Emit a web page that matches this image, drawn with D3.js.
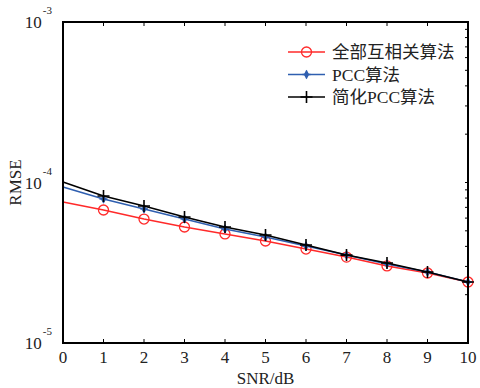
<!DOCTYPE html>
<head>
  <meta charset="utf-8">
  <script src="https://d3js.org/d3.v7.min.js"></script>
  <style>
    body { margin:0; background:#fff; }
    svg { display:block; }
    text { font-family: "Liberation Serif", "Times New Roman", serif; fill:#222; }
    .cjk { font-family: "Liberation Serif", "Noto Sans CJK SC", serif; }
  </style>
</head>
<body>
  <svg width="480" height="388"></svg>
  <script>
    // data
    var snr = [0, 1, 2, 3, 4, 5, 6, 7, 8, 9, 10];
    var rmseFull = [7.56e-5, 6.74e-5, 5.92e-5, 5.28e-5, 4.78e-5, 4.32e-5, 3.85e-5, 3.43e-5, 3.02e-5, 2.73e-5, 2.40e-5];
    var rmsePcc = [9.37e-5, 7.89e-5, 6.84e-5, 5.92e-5, 5.13e-5, 4.58e-5, 4.02e-5, 3.53e-5, 3.11e-5, 2.77e-5, 2.40e-5];
    var rmseSimple = [1.007e-4, 8.24e-5, 7.14e-5, 6.10e-5, 5.28e-5, 4.71e-5, 4.08e-5, 3.53e-5, 3.15e-5, 2.77e-5, 2.40e-5];
    var seriesNames = ['全部互相关算法', 'PCC算法', '简化PCC算法'];
    var yTickExp = [-5, -4, -3];

    var margin = {top: 22, bottom: 45, left: 63, right: 12};
    var width = 480, height = 388;

    var x = d3.scaleLinear().domain([0, 10]).range([margin.left, width - margin.right]);
    var y = d3.scaleLog().domain([1e-5, 1e-3]).range([height - margin.bottom, margin.top]);

    var svg = d3.select('svg');

    var series = [
      {name: seriesNames[0], values: rmseFull, color: '#ff2a2a', marker: 'circle'},
      {name: seriesNames[1], values: rmsePcc, color: '#2f5fb0', marker: 'star'},
      {name: seriesNames[2], values: rmseSimple, color: '#000000', marker: 'plus'}
    ];

    var line = d3.line().x((d, i) => x(snr[i])).y(d => y(d));

    function drawMarker(g, m, color) {
      if (m === 'circle') {
        g.append('circle').attr('r', 5).attr('fill', 'none').attr('stroke', color).attr('stroke-width', 1.3);
      } else if (m === 'star') {
        g.append('path').attr('d', d3.symbol().type(d3.symbolDiamond).size(26)).attr('fill', color);
        g.append('path').attr('d', 'M-4,0H4M0,-4V4').attr('stroke', color).attr('stroke-width', 1.3);
      } else {
        g.append('path').attr('d', 'M-6,0H6M0,-6V6').attr('stroke', color).attr('stroke-width', 1.6);
      }
    }

    series.forEach(s => {
      svg.append('path')
        .attr('d', line(s.values))
        .attr('fill', 'none')
        .attr('stroke', s.color)
        .attr('stroke-width', 1.6);
      s.values.forEach((v, i) => {
        if (i === 0) return;
        var g = svg.append('g').attr('transform', 'translate(' + [x(snr[i]), y(v)] + ')');
        drawMarker(g, s.marker, s.color);
      });
    });

    // frame
    var x0 = x(0), x1 = x(10), yb = y(1e-5), yt = y(1e-3);
    svg.append('rect')
      .attr('x', x0).attr('y', yt).attr('width', x1 - x0).attr('height', yb - yt)
      .attr('fill', 'none').attr('stroke', '#000').attr('stroke-width', 2);

    // x ticks: bottom up and top down
    snr.forEach(t => {
      if (t === 0 || t === 10) return;
      svg.append('line').attr('x1', x(t)).attr('x2', x(t)).attr('y1', yb).attr('y2', yb - 4).attr('stroke', '#000').attr('stroke-width', 1);
      svg.append('line').attr('x1', x(t)).attr('x2', x(t)).attr('y1', yt).attr('y2', yt + 4).attr('stroke', '#000').attr('stroke-width', 1);
    });
    snr.forEach(t => {
      svg.append('text').attr('x', x(t)).attr('y', yb + 20).attr('text-anchor', 'middle')
        .attr('font-size', 17).text(t);
    });

    // right axis minor log ticks
    y.ticks().forEach(v => {
      svg.append('line').attr('x1', x1).attr('x2', x1 - 3).attr('y1', y(v)).attr('y2', y(v)).attr('stroke', '#000').attr('stroke-width', 1);
    });

    // y tick labels 10^n
    yTickExp.forEach(e => {
      var t = svg.append('text').attr('x', x0 - 11).attr('y', y(Math.pow(10, e)) + 6)
        .attr('text-anchor', 'end').attr('font-size', 17);
      t.append('tspan').text('10');
      t.append('tspan').attr('dx', 1).attr('dy', -14).attr('font-size', 11).text(e);
    });

    // axis titles
    svg.append('text').attr('x', x(5)).attr('y', 384).attr('text-anchor', 'middle')
      .attr('font-size', 17).text('SNR/dB');
    svg.append('text').attr('transform', 'translate(21,' + y(1e-4) + ') rotate(-90)')
      .attr('text-anchor', 'middle').attr('font-size', 17).text('RMSE');

    // legend
    series.forEach((s, i) => {
      var ly = 52 + i * 22.5;
      svg.append('line').attr('x1', 288).attr('x2', 325).attr('y1', ly).attr('y2', ly)
        .attr('stroke', s.color).attr('stroke-width', 1.6);
      var g = svg.append('g').attr('transform', 'translate(' + [306.5, ly] + ')');
      drawMarker(g, s.marker, s.color);
      svg.append('text').attr('class', 'cjk').attr('x', 332).attr('y', ly + 6)
        .attr('font-size', 17.5).text(s.name);
    });
  </script>
</body>
